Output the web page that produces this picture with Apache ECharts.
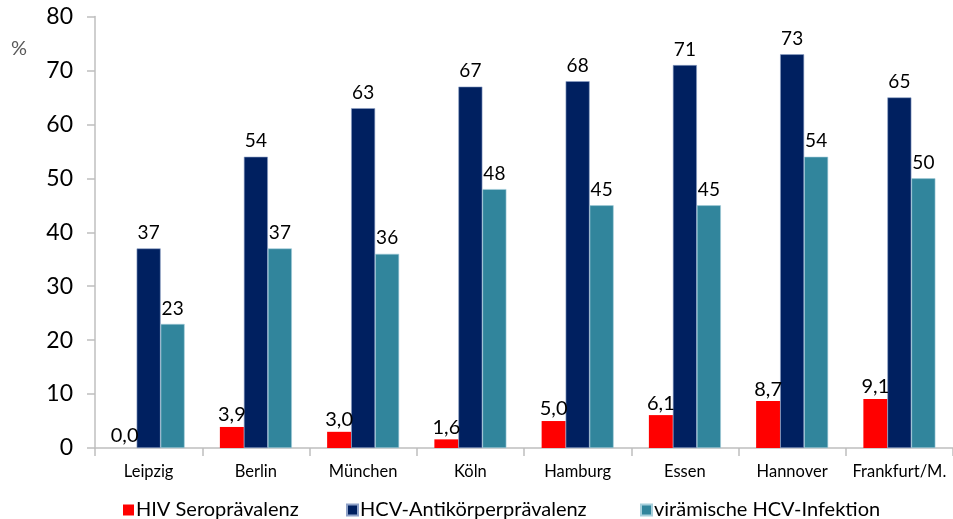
<!DOCTYPE html>
<html>
<head>
<meta charset="utf-8">
<script src="https://cdn.jsdelivr.net/npm/echarts@6/dist/echarts.min.js"></script>
<style>
  html, body { margin: 0; padding: 0; background: #fff; }
  #chart { width: 953px; height: 519px; }
</style>
</head>
<body>
<div id="chart"></div>
<script>
// Städte (Kategorien)
const cities = ['Leipzig', 'Berlin', 'München', 'Köln', 'Hamburg', 'Essen', 'Hannover', 'Frankfurt/M.'];
// HIV-Seroprävalenz in %
const hivValues = [0.0, 3.9, 3.0, 1.6, 5.0, 6.1, 8.7, 9.1];
// HCV-Antikörperprävalenz in %
const hcvAbValues = [37, 54, 63, 67, 68, 71, 73, 65];
// virämische HCV-Infektion in %
const hcvRnaValues = [23, 37, 36, 48, 45, 45, 54, 50];
// Y-Achse
const yTicks = { min: 0, max: 80, step: 10 };
const seriesNames = ['HIV Seroprävalenz', 'HCV-Antikörperprävalenz', 'virämische HCV-Infektion'];

const FONT = 'Lato, "Liberation Sans", sans-serif';
const chart = echarts.init(document.getElementById('chart'), null, { renderer: 'canvas' });

const commaFmt = p => p.value.toFixed(1).replace('.', ',');

// one legend entry per component so each can sit at its own x position
const legendLefts = [118, 341, 635];
const legends = seriesNames.map((name, i) => ({
  left: legendLefts[i], top: 495,
  itemWidth: 11, itemHeight: 11,
  icon: 'rect',
  textStyle: { fontSize: 20, color: '#000', fontFamily: FONT, padding: [0, 0, 0, -3] },
  data: [name]
}));

chart.setOption({
  animation: false,
  textStyle: { fontFamily: FONT },
  grid: { left: 95, top: 16.5, width: 862, height: 431.5, containLabel: false },
  graphic: [{
    type: 'text', left: 11, top: 39,
    style: { text: '%', fontSize: 20, fill: '#595959', fontFamily: FONT }
  }],
  legend: legends,
  xAxis: {
    type: 'category',
    data: cities,
    axisLine: { lineStyle: { color: '#bfbfbf', width: 1.5 } },
    axisTick: { show: true, length: 8, lineStyle: { color: '#bfbfbf', width: 1.5 } },
    axisLabel: { fontSize: 16.5, color: '#000', margin: 15, fontFamily: FONT, interval: 0 }
  },
  yAxis: {
    type: 'value',
    min: yTicks.min, max: yTicks.max, interval: yTicks.step,
    splitLine: { show: false },
    axisLine: { show: true, lineStyle: { color: '#bfbfbf', width: 1.5 } },
    axisTick: { show: true, length: 8, lineStyle: { color: '#bfbfbf', width: 1.5 } },
    axisLabel: { fontSize: 23, color: '#000', margin: 22, fontFamily: FONT }
  },
  series: [
    {
      name: seriesNames[0], type: 'bar', data: hivValues,
      barWidth: 24, barGap: '0%',
      itemStyle: { color: '#ff0000' },
      label: { show: true, position: 'top', distance: 2, fontSize: 20, color: '#000', formatter: commaFmt, fontFamily: FONT }
    },
    {
      name: seriesNames[1], type: 'bar', data: hcvAbValues,
      barWidth: 24, barGap: '0%',
      itemStyle: { color: '#002060', borderColor: '#8fa2c8', borderWidth: 0.6 },
      label: { show: true, position: 'top', distance: 6, fontSize: 19, color: '#000', fontFamily: FONT }
    },
    {
      name: seriesNames[2], type: 'bar', data: hcvRnaValues,
      barWidth: 24, barGap: '0%',
      itemStyle: { color: '#31859c', borderColor: '#a6cfdb', borderWidth: 0.6 },
      label: { show: true, position: 'top', distance: 6, fontSize: 19, color: '#000', fontFamily: FONT }
    }
  ]
});
</script>
</body>
</html>
